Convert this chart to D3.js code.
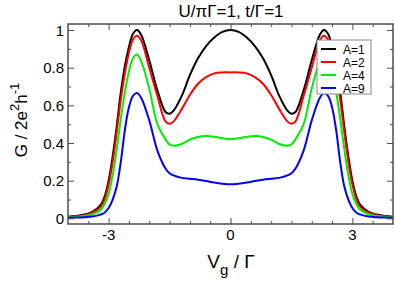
<html>
<head>
<script src="https://d3js.org/d3.v7.min.js"></script>
<style>
  body { margin: 0; background: #fff; }
  svg text { font-family: "Liberation Sans", Arial, sans-serif; fill: #000; }
</style>
</head>
<body>
<script>
// gate voltage Vg/Gamma
var vg = [-4, -3.8, -3.6, -3.4, -3.2, -3.1, -3.0, -2.9, -2.8, -2.7, -2.6, -2.5, -2.4, -2.3, -2.2, -2.0, -1.8, -1.6, -1.5, -1.4, -1.2, -1.0, -0.8, -0.6, -0.4, -0.2,
          0,
          0.2, 0.4, 0.6, 0.8, 1.0, 1.2, 1.4, 1.5, 1.6, 1.8, 2.0, 2.2, 2.3, 2.4, 2.5, 2.6, 2.7, 2.8, 2.9, 3.0, 3.1, 3.2, 3.4, 3.6, 3.8, 4];

var gA1 = [0.008, 0.012, 0.02, 0.035, 0.07, 0.115, 0.2, 0.33, 0.49, 0.67, 0.81, 0.91, 0.98, 1.0, 0.975, 0.84, 0.68, 0.565, 0.556, 0.572, 0.65, 0.76, 0.85, 0.915, 0.96, 0.99,
           1.0,
           0.99, 0.96, 0.915, 0.85, 0.76, 0.65, 0.572, 0.556, 0.565, 0.68, 0.84, 0.975, 1.0, 0.98, 0.91, 0.81, 0.67, 0.49, 0.33, 0.2, 0.115, 0.07, 0.035, 0.02, 0.012, 0.008];
var gA2 = [0.007, 0.01, 0.017, 0.03, 0.06, 0.1, 0.18, 0.3, 0.46, 0.63, 0.77, 0.88, 0.95, 0.97, 0.945, 0.8, 0.65, 0.515, 0.502, 0.515, 0.58, 0.655, 0.715, 0.75, 0.77, 0.775,
           0.775,
           0.775, 0.77, 0.75, 0.715, 0.655, 0.58, 0.515, 0.502, 0.515, 0.65, 0.8, 0.945, 0.97, 0.95, 0.88, 0.77, 0.63, 0.46, 0.3, 0.18, 0.1, 0.06, 0.03, 0.017, 0.01, 0.007];
var gA4 = [0.005, 0.008, 0.012, 0.022, 0.045, 0.075, 0.13, 0.23, 0.37, 0.53, 0.67, 0.78, 0.85, 0.87, 0.835, 0.69, 0.5, 0.42, 0.392, 0.385, 0.395, 0.418, 0.432, 0.437, 0.433, 0.425,
           0.42,
           0.425, 0.433, 0.437, 0.432, 0.418, 0.395, 0.385, 0.392, 0.42, 0.5, 0.69, 0.835, 0.87, 0.85, 0.78, 0.67, 0.53, 0.37, 0.23, 0.13, 0.075, 0.045, 0.022, 0.012, 0.008, 0.005];
var gA9 = [0.003, 0.004, 0.006, 0.01, 0.02, 0.03, 0.055, 0.1, 0.17, 0.3, 0.47, 0.59, 0.65, 0.665, 0.64, 0.52, 0.36, 0.265, 0.24, 0.228, 0.215, 0.21, 0.205, 0.198, 0.19, 0.184,
           0.181,
           0.184, 0.19, 0.198, 0.205, 0.21, 0.215, 0.228, 0.24, 0.265, 0.36, 0.52, 0.64, 0.665, 0.65, 0.59, 0.47, 0.3, 0.17, 0.1, 0.055, 0.03, 0.02, 0.01, 0.006, 0.004, 0.003];

var seriesNames = ["A=1", "A=2", "A=4", "A=9"];
var seriesColors = ["#000000", "#ff0000", "#00ee00", "#0000ff"];
var seriesValues = [gA1, gA2, gA4, gA9];

var xMajor = [-3, 0, 3];
var xMinor = [-3.5, -2.5, -2, -1.5, -1, -0.5, 0.5, 1, 1.5, 2, 2.5, 3.5];
var yMajor = [0, 0.2, 0.4, 0.6, 0.8, 1];
var yMinor = [0.1, 0.3, 0.5, 0.7, 0.9];

var width = 395, height = 284;
var padL = 68, padR = 393, padT = 24, padB = 224;

var svg = d3.select("body").append("svg")
    .attr("width", width)
    .attr("height", height);

var x = d3.scaleLinear().domain([-4, 4]).range([padL, padR]);
var y = d3.scaleLinear().domain([-0.03, 1.032]).range([padB, padT]);

// curves
var line = d3.line()
    .x(function(d) { return x(d[0]); })
    .y(function(d) { return y(d[1]); })
    .curve(d3.curveCatmullRom.alpha(0.5));

svg.append("g").selectAll("path")
    .data(seriesValues)
    .enter()
    .append("path")
    .attr("d", function(vals) { return line(vg.map(function(v, i) { return [v, vals[i]]; })); })
    .attr("fill", "none")
    .attr("stroke", function(d, i) { return seriesColors[i]; })
    .attr("stroke-width", 2);

// frame and inward ticks on all four sides
var axisColor = "#4d4d4d";
function addAxis(axis, tx, ty, size, vals) {
    svg.append("g")
        .attr("transform", "translate(" + tx + "," + ty + ")")
        .call(axis.tickValues(vals).tickSize(size).tickFormat(""))
        .call(function(g) {
            g.select(".domain").remove();
            g.selectAll("line").attr("stroke", axisColor).attr("stroke-width", 1);
        });
}
addAxis(d3.axisBottom(x), 0, padB, -6, xMajor);
addAxis(d3.axisBottom(x), 0, padB, -3, xMinor);
addAxis(d3.axisTop(x), 0, padT, -6, xMajor);
addAxis(d3.axisTop(x), 0, padT, -3, xMinor);
addAxis(d3.axisLeft(y), padL, 0, -6, yMajor);
addAxis(d3.axisLeft(y), padL, 0, -3, yMinor);
addAxis(d3.axisRight(y), padR, 0, -6, yMajor);
addAxis(d3.axisRight(y), padR, 0, -3, yMinor);

svg.append("rect")
    .attr("x", padL).attr("y", padT)
    .attr("width", padR - padL).attr("height", padB - padT)
    .attr("fill", "none")
    .attr("stroke", axisColor)
    .attr("stroke-width", 1.5);

// tick labels
svg.append("g").selectAll("text")
    .data(xMajor)
    .enter()
    .append("text")
    .attr("x", function(d) { return x(d); })
    .attr("y", 240)
    .attr("text-anchor", "middle")
    .attr("font-size", 15)
    .text(function(d) { return d; });

svg.append("g").selectAll("text")
    .data(yMajor)
    .enter()
    .append("text")
    .attr("x", 64)
    .attr("y", function(d) { return y(d) + 5.5; })
    .attr("text-anchor", "end")
    .attr("font-size", 15)
    .text(function(d) { return d; });

// titles
svg.append("text")
    .attr("x", 231).attr("y", 17)
    .attr("text-anchor", "middle")
    .attr("font-size", 17)
    .text("U/\u03c0\u0393=1, t/\u0393=1");

var xt = svg.append("text")
    .attr("x", 231).attr("y", 268)
    .attr("text-anchor", "middle")
    .attr("font-size", 19);
xt.append("tspan").text("V");
xt.append("tspan").attr("dy", 7).attr("font-size", 15).text("g");
xt.append("tspan").attr("dy", -7).text(" / \u0393");

var yt = svg.append("text")
    .attr("transform", "translate(27,120) rotate(-90)")
    .attr("text-anchor", "middle")
    .attr("font-size", 17);
yt.append("tspan").text("G / 2e");
yt.append("tspan").attr("dy", -8).attr("font-size", 13).text("2");
yt.append("tspan").attr("dy", 8).text("h");
yt.append("tspan").attr("dy", -8).attr("font-size", 13).text("-1");

// legend
var legend = svg.append("g");
legend.append("rect")
    .attr("x", 317).attr("y", 40)
    .attr("width", 54).attr("height", 54)
    .attr("fill", "#fff")
    .attr("stroke", "#888")
    .attr("stroke-width", 1);
var rows = legend.selectAll("g.row")
    .data(seriesNames)
    .enter()
    .append("g")
    .attr("class", "row")
    .attr("transform", function(d, i) { return "translate(0," + (49 + i * 13) + ")"; });
rows.append("line")
    .attr("x1", 321).attr("x2", 336)
    .attr("stroke", function(d, i) { return seriesColors[i]; })
    .attr("stroke-width", 2);
rows.append("text")
    .attr("x", 343).attr("y", 4.5)
    .attr("font-size", 12)
    .text(function(d) { return d; });
</script>
</body>
</html>
